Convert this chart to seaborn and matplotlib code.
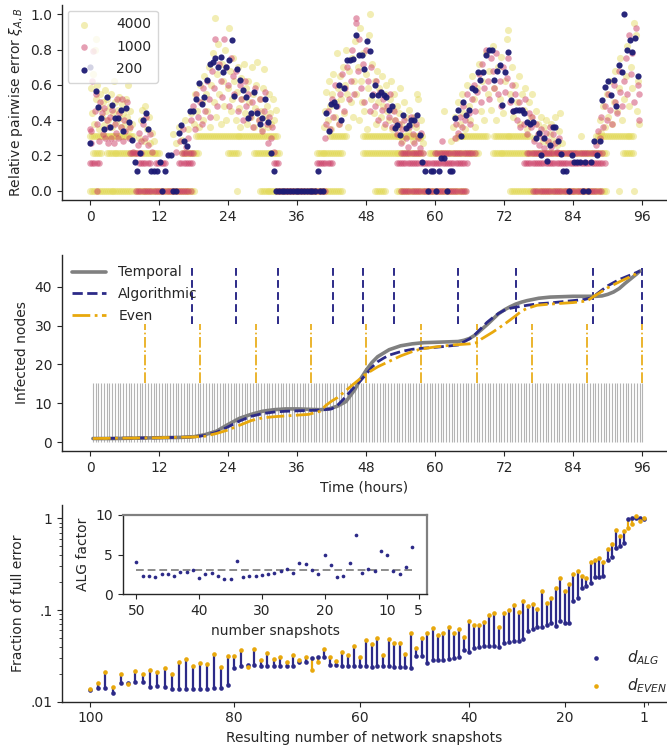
import numpy as np
import matplotlib
matplotlib.use("Agg")
import matplotlib.pyplot as plt
import seaborn as sns
from matplotlib.ticker import FixedLocator, FixedFormatter, NullFormatter, LogLocator

sns.set_style("ticks")
plt.rcParams.update({
    "font.family": ["DejaVu Sans"],
    "font.size": 10,
    "axes.labelsize": 10,
    "xtick.labelsize": 10,
    "ytick.labelsize": 10,
    "legend.fontsize": 10,
    "axes.linewidth": 1.0,
    "mathtext.fontset": "dejavusans",
})

NAVY = "#2c2a88"
GOLD = "#e8a80c"
YELLOW = "#e0d64c"
PINK = "#cc4068"
DOT_NAVY = "#1d1b74"

# ---------------------------------------------------------------- panel 1 data
# 200-snapshot resolution: (time in hours, relative pairwise error)
RES200 = [
    (0.0, .70), (0.05, .27), (1.0, .566), (1.45, .476), (1.9, .41), (2.4, .35), (2.9, .53),
    (3.4, .36), (3.9, .486), (4.3, .41), (4.8, .41), (5.3, .46), (5.8, .336), (6.3, .467),
    (6.8, .388), (7.3, .29), (7.8, .163), (8.2, .112), (8.7, .215), (9.2, .40), (9.7, .44),
    (10.1, .35), (10.6, .112), (11.1, .112), (11.6, .112), (12.1, .163), (12.6, 0), (13.0, .112),
    (13.5, .20), (14.0, .20), (14.5, 0), (14.9, 0), (15.5, .33), (15.9, .37), (16.4, .28),
    (16.9, .255), (17.4, .45), (17.9, .45), (18.4, .52), (18.9, .61), (19.4, .49), (19.8, .53),
    (20.3, .63), (20.8, .72), (21.3, .73), (21.7, .75), (22.2, .70), (22.7, .755), (23.2, .67),
    (23.7, .70), (24.2, .74), (24.6, .854), (25.1, .535), (25.6, .69), (26.1, .63), (26.6, .57),
    (27.1, .53), (27.5, .41), (28.0, .44), (28.5, .56), (29.0, .44), (29.5, .38), (29.9, .41),
    (30.4, .52), (30.9, .39), (31.4, .215), (31.9, .112),
    (32.4, 0), (32.9, 0), (33.4, 0), (33.8, 0), (34.3, 0), (34.8, 0), (35.3, 0), (35.8, 0),
    (36.2, 0), (36.7, 0), (37.2, 0), (37.7, 0), (38.2, 0), (38.6, 0), (39.1, 0),
    (39.6, .112), (40.0, 0), (40.5, 0), (41.0, .44), (41.5, .34), (41.9, .49), (42.4, .50),
    (42.8, .48), (43.3, .60), (43.7, .40), (44.2, .58), (44.7, .74), (45.2, .74), (45.7, .747),
    (46.2, .884), (46.7, .77), (47.2, .767), (47.6, .69), (48.1, .85), (48.6, .79), (49.1, .54),
    (49.6, .60), (50.1, .54), (50.6, .56), (51.1, .54), (51.5, .53), (52.0, .46), (52.5, .48),
    (53.0, .355), (53.4, .37), (53.9, .318), (54.4, .43), (54.9, .355), (55.4, .37), (55.8, .40),
    (56.3, .40), (56.8, .43), (57.3, .318), (57.7, .163), (58.2, .112), (58.7, 0), (59.2, .112),
    (59.7, .112), (60.1, 0), (60.6, .112), (61.1, .187), (61.6, .187), (62.1, 0), (62.5, .112),
    (63.0, .112), (63.5, .41), (64.0, .46), (64.5, .309), (64.9, .50), (65.4, .43), (65.9, .46),
    (66.4, .58), (66.9, .57), (67.4, .67), (67.8, .63), (68.3, .67), (68.8, .767), (69.3, .80),
    (69.8, .80), (70.2, .63), (70.7, .68), (71.2, .71), (71.7, .485), (72.2, .672), (72.7, .785),
    (73.1, .514), (73.6, .45), (74.1, .46), (74.6, .46), (75.1, .46), (75.5, .443), (76.0, .39),
    (76.5, .38), (77.0, .39), (77.5, .30), (78.0, .33), (78.4, .20), (78.9, .30), (79.4, .17),
    (79.9, .26), (80.4, .36), (80.8, .36), (81.3, .28), (81.8, .21), (82.3, .112), (82.8, .112),
    (83.3, 0), (83.7, .20), (84.2, .163), (84.7, .163), (85.2, .163), (85.7, 0), (86.1, .163),
    (86.6, 0), (87.1, .163), (87.6, .28), (88.1, .20), (88.6, .28), (89.0, .516), (89.5, .588),
    (90.0, .62), (90.5, .54), (91.0, .63), (91.5, .478), (91.9, .71), (92.4, .672), (92.9, 1.0),
    (93.4, .80), (93.9, .854), (94.3, .785), (94.8, .865), (95.3, .65),
]

# 1000-snapshot resolution: scattered values and quantised plateaus (value, t_start, t_end)
RES1000_SCATTER = [
    (0.0, .35), (0.2, .27), (0.1, .34), (0.3, .62), (0.6, .79), (0.8, .45), (1.0, .55), (1.3, .38),
    (1.5, .28), (1.7, .50), (2.0, .44), (2.2, .32), (2.4, .47), (2.6, .30), (2.9, .40), (3.1, .27),
    (3.3, .36), (3.5, .42), (3.7, .30), (3.9, .46), (4.1, .27), (4.3, .38), (4.5, .33), (4.7, .52),
    (4.9, .30), (5.1, .44), (5.3, .36), (5.5, .52), (5.7, .28), (5.9, .40), (6.1, .34), (6.4, .50),
    (6.7, .30), (7.0, .36), (7.4, .22), (8.3, .26), (8.6, .33), (8.9, .28), (9.2, .38), (9.5, .30),
    (9.8, .42), (10.1, .26), (10.4, .32), (10.8, .22), (15.0, .22), (15.6, .28), (16.1, .35),
    (16.6, .25), (17.1, .30), (17.6, .40), (17.9, .48), (18.2, .35), (18.5, .55), (18.8, .42),
    (19.1, .50), (19.4, .38), (19.7, .58), (20.0, .45), (20.3, .62), (20.6, .52), (20.9, .42),
    (21.2, .68), (21.5, .58), (21.8, .86), (22.1, .48), (22.4, .72), (22.7, .62), (23.0, .53),
    (23.3, .86), (23.6, .70), (23.9, .60), (24.2, .48), (24.5, .75), (24.8, .65), (25.1, .55),
    (25.4, .68), (25.7, .45), (26.0, .60), (26.3, .52), (26.6, .40), (26.9, .62), (27.2, .48),
    (27.5, .55), (27.8, .42), (28.1, .50), (28.4, .36), (28.7, .58), (29.0, .45), (29.3, .40),
    (29.6, .52), (29.9, .34), (30.2, .45), (30.5, .56), (30.8, .38), (31.1, .42), (31.4, .30),
    (31.7, .36), (32.0, .22), (31.0, .27), (40.8, .30), (41.1, .38), (41.4, .45), (41.7, .35),
    (42.0, .52), (42.3, .42), (42.6, .60), (42.9, .48), (43.2, .38), (43.5, .55), (43.8, .66),
    (44.1, .45), (44.4, .58), (44.7, .70), (45.0, .52), (45.3, .62), (45.6, .80), (45.9, .55),
    (46.2, .98), (46.3, .95), (46.5, .68), (46.8, .86), (47.1, .58), (47.4, .72), (47.7, .50),
    (48.0, .80), (48.3, .62), (48.6, .45), (48.9, .70), (49.2, .55), (49.5, .48), (49.8, .62),
    (50.1, .40), (50.4, .56), (50.7, .46), (51.0, .52), (51.3, .38), (51.6, .48), (51.9, .42),
    (52.2, .55), (52.5, .36), (52.8, .45), (53.1, .40), (53.4, .32), (53.7, .38), (54.0, .27),
    (54.3, .35), (54.6, .40), (54.9, .30), (55.2, .25), (55.5, .36), (55.8, .42), (56.1, .32),
    (56.4, .27), (56.7, .38), (57.0, .30), (57.3, .24), (57.6, .33), (61.2, .28), (63.4, .30),
    (63.7, .38), (64.0, .33), (64.3, .42), (64.6, .36), (64.9, .48), (65.2, .40), (65.5, .55),
    (65.8, .44), (66.1, .38), (66.4, .52), (66.7, .60), (67.0, .45), (67.3, .56), (67.6, .66),
    (67.9, .50), (68.2, .72), (68.5, .58), (68.8, .80), (69.1, .62), (69.4, .52), (69.7, .75),
    (70.0, .68), (70.3, .58), (70.6, .78), (70.9, .55), (71.2, .62), (71.5, .48), (71.8, .70),
    (72.1, .56), (72.4, .64), (72.7, .75), (73.0, .50), (73.3, .60), (73.6, .45), (73.9, .55),
    (74.2, .40), (74.5, .50), (74.8, .36), (75.1, .46), (75.4, .38), (75.7, .52), (76.0, .32),
    (76.3, .44), (76.6, .36), (76.9, .42), (77.2, .28), (77.5, .38), (77.8, .32), (78.1, .26),
    (78.4, .35), (78.7, .30), (79.0, .24), (79.3, .33), (79.6, .28), (79.9, .36), (80.2, .25),
    (80.5, .32), (80.8, .27), (81.2, .22), (81.6, .30), (88.0, .26), (88.3, .34), (88.6, .30),
    (88.9, .42), (89.2, .36), (89.5, .48), (89.8, .40), (90.1, .55), (90.4, .46), (90.7, .38),
    (91.0, .60), (91.3, .50), (91.6, .44), (91.9, .68), (92.2, .56), (92.5, .48), (92.8, .62),
    (93.1, .75), (93.4, .55), (93.7, .88), (94.0, .66), (94.3, .78), (94.6, .50), (94.9, .92),
    (95.2, .60), (95.5, .40), (95.5, .55),
]
RES1000_PLATEAUS = [
    (0.0, 1.2, 1.2), (0.0, 8.0, 17.8), (0.0, 32.5, 41.2), (0.0, 54.0, 65.5), (0.0, 77.0, 89.0),
    (0.159, 0.0, 1.8), (0.159, 8.5, 10.5), (0.159, 11.5, 13.3), (0.159, 15.5, 17.8),
    (0.159, 32.0, 33.0), (0.159, 39.4, 42.3), (0.159, 53.3, 65.5), (0.159, 75.4, 89.8),
    (0.215, 7.0, 9.0), (0.215, 16.0, 18.0), (0.215, 54.0, 58.0), (0.215, 60.0, 67.0),
    (0.215, 76.0, 89.0),
]

# 4000-snapshot resolution
RES4000_SCATTER = [
    (0.1, .58), (0.3, .44), (0.5, .66), (0.7, .38), (0.9, .80), (1.0, .52), (1.1, .86), (1.3, .60),
    (1.5, .47), (1.6, .35), (1.8, .55), (2.0, .42), (2.2, .50), (2.4, .37), (2.6, .57), (2.8, .45),
    (3.0, .52), (3.2, .40), (3.4, .48), (3.6, .55), (3.8, .36), (4.0, .44), (4.2, .62), (4.4, .50),
    (4.6, .39), (4.8, .46), (5.0, .53), (5.2, .41), (5.4, .36), (5.6, .49), (5.8, .44), (6.0, .38),
    (6.2, .52), (6.4, .42), (6.6, .60), (6.8, .35), (7.0, .45), (7.3, .38), (8.6, .30), (8.9, .40),
    (9.1, .46), (9.3, .28), (9.6, .48), (9.9, .35), (10.2, .42), (10.5, .27), (10.8, .33),
    (11.2, .28), (14.4, .32), (15.0, .27), (15.5, .36), (16.0, .29), (16.5, .40), (17.0, .35),
    (17.5, .44), (18.0, .38), (18.3, .55), (18.6, .45), (18.9, .36), (19.1, .60), (19.4, .50),
    (19.7, .40), (19.9, .65), (20.2, .55), (20.4, .45), (20.7, .70), (20.9, .36), (21.1, .60),
    (21.3, .78), (21.5, .50), (21.7, .98), (21.9, .42), (22.1, .66), (22.3, .83), (22.5, .55),
    (22.7, .38), (22.9, .72), (23.1, .62), (23.3, .48), (23.5, .80), (23.7, .40), (23.9, .58),
    (24.1, .92), (24.3, .68), (24.5, .45), (24.7, .52), (24.9, .75), (25.1, .62), (25.3, .40),
    (25.5, .56), (25.7, .70), (25.9, .47), (26.1, .36), (26.3, .64), (26.5, .52), (26.7, .72),
    (26.9, .44), (27.1, .58), (27.3, .38), (27.5, .62), (27.7, .50), (27.9, .42), (28.1, .70),
    (28.3, .55), (28.5, .36), (28.7, .47), (28.9, .60), (29.1, .73), (29.3, .40), (29.5, .52),
    (29.7, .45), (29.9, .35), (30.1, .58), (30.3, .69), (30.5, .42), (30.7, .48), (30.9, .36),
    (31.1, .55), (31.3, .44), (31.5, .38), (31.8, .52), (32.0, .40), (32.3, .46), (25.6, 0.0),
    (40.6, .36), (40.9, .45), (41.1, .56), (41.3, .40), (41.5, .62), (41.7, .48), (41.9, .35),
    (42.1, .55), (42.3, .66), (42.5, .42), (42.7, .50), (42.9, .78), (43.1, .58), (43.3, .38),
    (43.5, .65), (43.7, .52), (43.9, .70), (44.1, .44), (44.3, .60), (44.5, .80), (44.7, .55),
    (44.9, .36), (45.1, .68), (45.3, .50), (45.5, .75), (45.7, .42), (45.9, .62), (46.1, .85),
    (46.3, .55), (46.5, .70), (46.7, .40), (46.9, .92), (47.1, .62), (47.3, .50), (47.5, .78),
    (47.7, .45), (47.9, .66), (48.1, .35), (48.3, .58), (48.5, .88), (48.7, 1.0), (48.9, .52),
    (49.1, .72), (49.3, .44), (49.5, .62), (49.7, .38), (49.9, .68), (50.1, .50), (50.3, .58),
    (50.5, .42), (50.7, .65), (50.9, .48), (51.1, .36), (51.3, .55), (51.5, .60), (51.7, .45),
    (51.9, .40), (52.1, .52), (52.3, .62), (52.5, .35), (52.7, .46), (52.9, .55), (53.1, .40),
    (53.3, .48), (53.5, .36), (53.7, .44), (53.9, .58), (54.1, .38), (54.3, .28), (54.6, .50),
    (54.9, .42), (55.2, .34), (55.5, .46), (55.8, .38), (56.1, .28), (56.4, .42), (56.7, .36),
    (56.9, .55), (57.0, .52), (57.3, .30), (57.6, .40), (57.9, .27), (61.6, .45), (62.8, .28),
    (63.1, .36), (63.4, .42), (63.7, .30), (64.0, .50), (64.3, .38), (64.6, .55), (64.9, .44),
    (65.2, .35), (65.5, .60), (65.8, .48), (66.1, .40), (66.4, .65), (66.7, .52), (67.0, .36),
    (67.3, .58), (67.6, .72), (67.9, .45), (68.2, .62), (68.5, .40), (68.8, .78), (69.1, .55),
    (69.4, .68), (69.7, .46), (70.0, .82), (70.3, .58), (70.6, .40), (70.9, .70), (71.2, .52),
    (71.5, .76), (71.8, .44), (72.1, .62), (72.4, .86), (72.7, .91), (73.0, .55), (73.3, .70),
    (73.6, .42), (73.9, .60), (74.2, .50), (74.5, .65), (74.8, .38), (75.1, .55), (75.4, .46),
    (75.7, .58), (76.0, .35), (76.3, .50), (76.6, .42), (76.9, .55), (77.2, .30), (77.5, .45),
    (77.8, .38), (78.1, .33), (78.4, .42), (78.7, .28), (79.0, .36), (79.3, .40), (79.6, .27),
    (79.9, .32), (80.2, .38), (80.5, .29), (80.8, .42), (81.1, .26), (81.5, .34), (81.7, .44),
    (82.0, .27), (85.3, .31), (88.3, .28), (88.6, .40), (88.9, .33), (89.2, .48), (89.5, .36),
    (89.8, .55), (90.1, .42), (90.4, .62), (90.7, .38), (91.0, .50), (91.3, .68), (91.6, .45),
    (91.9, .58), (92.2, .75), (92.5, .40), (92.8, .52), (93.1, .65), (93.4, .82), (93.7, .48),
    (94.0, .70), (94.3, .58), (94.6, .95), (94.9, .88), (95.1, .45), (95.3, .62), (95.5, .38),
    (92.0, 0.0), (94.5, 0.0),
]
RES4000_PLATEAUS = [
    (0.0, 0.0, 7.2), (0.0, 7.6, 18.2), (0.0, 29.5, 43.8), (0.0, 49.5, 51.2), (0.0, 53.3, 65.5),
    (0.0, 73.0, 89.8),
    (0.215, 0.5, 2.0), (0.215, 2.9, 8.0), (0.215, 9.0, 12.2), (0.215, 16.0, 19.0),
    (0.215, 24.0, 26.0), (0.215, 28.5, 33.2), (0.215, 39.4, 44.0), (0.215, 47.5, 57.9),
    (0.215, 59.0, 67.8), (0.215, 70.0, 89.8), (0.215, 92.7, 94.5),
    (0.31, 0.0, 7.5), (0.31, 18.5, 32.5), (0.31, 41.7, 44.6), (0.31, 47.5, 58.0),
    (0.31, 63.9, 69.1), (0.31, 70.2, 76.5), (0.31, 88.0, 94.5),
]

# ---------------------------------------------------------------- panel 2 data
TIME_TICKS = [0, 12, 24, 36, 48, 60, 72, 84, 96]
N_SNAPSHOTS = 200
HOURS = 96.0
TEMPORAL_T = [0.5, 4, 8, 12, 16, 18, 20, 22, 24, 26, 28, 30, 32, 34, 36, 38, 40, 41.5, 43, 44.5,
              46, 47, 48, 49, 50, 52, 54, 56, 58, 60, 62, 64, 65, 66, 67, 68, 69, 70, 71, 72,
              73, 74, 75, 76, 78, 80, 82, 84, 86, 88, 89, 90, 91, 92, 93, 94, 95, 95.6]
TEMPORAL_Y = [1.0, 1.0, 1.1, 1.2, 1.3, 1.45, 2.0, 2.9, 4.6, 6.2, 7.2, 8.0, 8.4, 8.6, 8.6, 8.5, 8.4,
              8.6, 9.3, 10.5, 13.5, 16.2, 18.5, 20.5, 22.0, 23.8, 24.8, 25.3, 25.6, 25.7, 25.8,
              25.9, 26.2, 26.7, 27.6, 28.9, 30.2, 31.6, 33.0, 34.0, 34.8, 35.5, 36.0, 36.4, 37.0,
              37.3, 37.4, 37.5, 37.5, 37.5, 37.6, 38.0, 38.6, 39.5, 40.8, 42.0, 43.2, 44.0]
ALG_T = [0.5, 12, 18, 20, 22, 24, 26, 28, 30, 32, 34, 36, 38, 40, 42, 43, 44, 46, 47, 48,
         49, 50, 51, 52, 54, 56, 58, 60, 62, 64, 66, 67, 68, 69, 70, 71, 72, 73, 74, 76,
         78, 80, 82, 84, 86, 87.4, 88, 90, 92, 94, 95.6]
ALG_Y = [1.0, 1.2, 1.4, 1.8, 2.6, 4.0, 5.5, 6.7, 7.4, 7.8, 8.0, 8.1, 8.2, 8.3, 8.6, 9.5, 11.0,
         14.3, 15.8, 17.5, 19.3, 20.7, 21.6, 22.4, 23.3, 23.9, 24.2, 24.4, 24.7, 25.0, 26.6,
         27.8, 29.3, 30.8, 32.0, 33.1, 33.9, 34.4, 34.7, 35.2, 35.6, 35.8, 36.1, 36.4, 36.7,
         37.2, 38.0, 40.2, 41.8, 43.0, 44.0]
EVEN_T = [0.5, 12, 18, 20, 22, 24, 26, 28, 30, 32, 34, 36, 38, 40, 41, 42, 43, 44, 46, 47,
          48, 50, 52, 54, 56, 57.6, 60, 63, 66, 67.2, 68, 70, 72, 74, 75, 76, 77.7, 80, 84,
          86.4, 87.5, 90, 92, 94, 95.6]
EVEN_Y = [1.0, 1.2, 1.4, 1.6, 2.3, 3.2, 4.4, 5.6, 6.3, 6.6, 6.8, 7.0, 7.2, 8.0, 9.5, 10.6, 11.5,
          12.7, 15.2, 16.4, 17.6, 19.4, 20.8, 22.2, 23.3, 24.0, 24.5, 25.0, 25.3, 25.6, 26.5,
          28.3, 30.3, 32.5, 33.7, 34.4, 35.2, 35.5, 35.9, 36.3, 37.4, 39.7, 41.2, 42.6, 43.8]
ALG_BOUNDS = [17.8, 25.4, 32.7, 42.2, 47.5, 52.9, 63.9, 74.0, 87.4, 96.0]
EVEN_BOUNDS = [9.6, 19.2, 28.8, 38.4, 48.0, 57.6, 67.2, 76.8, 86.4, 96.0]
RUG_TOP, EVEN_TOP, ALG_TOP = 15.2, 30.4, 45.7

# ---------------------------------------------------------------- panel 3 data
N_RESULT = list(range(100, 0, -1))
D_EVEN = [.0138, .0161, .0209, .0144, .0199, .0156, .0216, .0199, .0223, .0212,
          .0231, .0199, .0273, .0290, .0247, .0264, .0256, .0329, .0237, .0313,
          .0313, .0363, .0240, .0372, .0283, .0337, .0292, .0305, .0271, .0326,
          .0283, .0305, .0222, .0269, .0372, .0305, .0276, .0346, .0323, .0408,
          .0305, .0467, .0426, .0491, .0323, .0486, .0440, .0440, .0334, .0565,
          .0382, .0499, .0561, .0637, .0530, .0565, .0653, .0556, .0621, .0512,
          .0753, .0686, .0686, .0734, .0882, .0935, .0647, .0920, .1000, .1134,
          .0944, .1254, .1114, .1153, .1025, .1610, .1183, .1340, .1750, .2220,
          .1610, .1920, .2450, .2660, .2330, .2250, .3310, .3510, .3660, .3360,
          .4630, .5200, .7450, .6460, .7320, .7780, .8670, 1.070, .9400, 1.015]
D_ALG = [.0135, .0142, .0140, .0126, .0161, .0158, .0165, .0163, .0144, .0148,
         .0144, .0138, .0138, .0138, .0138, .0138, .0138, .0142, .0142, .0153,
         .0235, .0247, .0252, .0249, .0247, .0247, .0244, .0245, .0247, .0247,
         .0269, .0271, .0303, .0310, .0305, .0249, .0249, .0247, .0247, .0247,
         .0247, .0247, .0239, .0243, .0243, .0243, .0241, .0241, .0239, .0231,
         .0318, .0318, .0266, .0287, .0285, .0287, .0290, .0299, .0305, .0366,
         .0351, .0383, .0392, .0405, .0408, .0408, .0398, .0440, .0451, .0459,
         .0463, .0479, .0594, .0616, .0658, .0658, .0686, .0716, .0670, .0759,
         .0727, .0727, .1254, .1340, .1720, .1830, .1990, .2290, .2310, .2370,
         .3510, .3810, .4780, .5020, .5330, .9800, 1.000, 1.000, 1.000, .995]
X_TICKS3 = [100, 80, 60, 40, 20, 1]

INSET_N = list(range(50, 5, -1))
ALG_FACTOR = [4.07, 2.29, 2.33, 2.20, 2.50, 2.58, 2.37, 2.80, 2.75, 3.09,
              2.03, 2.54, 2.67, 2.25, 1.95, 1.99, 4.19, 2.16, 2.25, 2.33,
              2.42, 2.58, 2.71, 2.92, 3.22, 2.71, 3.94, 3.77, 3.05, 2.54,
              4.92, 3.73, 2.16, 2.37, 3.94, 7.42, 2.71, 3.22, 2.92, 5.42,
              4.92, 2.92, 2.58, 3.43, 5.93]


def expand_plateaus(plateaus, step):
    ts, vs = [], []
    for v, a, b in plateaus:
        t = np.arange(a, b + 1e-9, step)
        ts.extend(t.tolist())
        vs.extend([v] * len(t))
    return ts, vs


W, H = 667, 748
fig = plt.figure(figsize=(W / 100, H / 100), dpi=100)
L = 62 / W
AW = 1 - L

# ---------------------------------------------------------------- panel 1
ax1 = fig.add_axes([L, 1 - 200 / H, AW, 195 / H])
yt, yv = expand_plateaus(RES4000_PLATEAUS, 0.34)
yt += [p[0] for p in RES4000_SCATTER]
yv += [p[1] for p in RES4000_SCATTER]
pt, pv = expand_plateaus(RES1000_PLATEAUS, 0.38)
pt += [p[0] for p in RES1000_SCATTER]
pv += [p[1] for p in RES1000_SCATTER]
sns.scatterplot(x=yt, y=yv, color=YELLOW, alpha=0.42, s=26, linewidth=0, ax=ax1, label="4000")
sns.scatterplot(x=pt, y=pv, color=PINK, alpha=0.5, s=22, linewidth=0, ax=ax1, label="1000")
sns.scatterplot(x=[p[0] for p in RES200], y=[p[1] for p in RES200], color=DOT_NAVY,
                alpha=0.95, s=20, linewidth=0, ax=ax1, label="200")
ax1.set_xlim(-4.87, 100.3)
ax1.set_ylim(-0.052, 1.052)
ax1.set_xticks(TIME_TICKS)
ax1.set_yticks([0, 0.2, 0.4, 0.6, 0.8, 1.0])
ax1.set_yticklabels(["0.0", "0.2", "0.4", "0.6", "0.8", "1.0"])
ax1.set_ylabel(r"Relative pairwise error $\xi_{A,B}$")
ax1.legend(loc="upper left", frameon=True, handletextpad=1.6, borderpad=0.5,
           labelspacing=0.6, borderaxespad=0.4, handlelength=1.4)
sns.despine(ax=ax1)

# ---------------------------------------------------------------- panel 2
ax2 = fig.add_axes([L, 1 - 451 / H, AW, 196 / H])
snap_times = HOURS / N_SNAPSHOTS * np.arange(1, N_SNAPSHOTS + 1)
ax2.vlines(snap_times, 0, RUG_TOP, color="0.55", lw=0.8, alpha=0.65, zorder=1)
ax2.vlines(EVEN_BOUNDS, RUG_TOP, EVEN_TOP, color=GOLD, lw=1.2, linestyles="dashdot", zorder=1)
ax2.vlines(ALG_BOUNDS, EVEN_TOP, ALG_TOP, color=NAVY, lw=1.4, linestyles=(0, (4, 2.2)), zorder=1)
sns.lineplot(x=TEMPORAL_T, y=TEMPORAL_Y, color="#808080", lw=2.6, sort=False, estimator=None,
             label="Temporal", ax=ax2, zorder=3)
sns.lineplot(x=ALG_T, y=ALG_Y, color=NAVY, lw=2.0, sort=False, estimator=None,
             label="Algorithmic", ax=ax2, zorder=4, linestyle=(0, (3.7, 1.6)))
sns.lineplot(x=EVEN_T, y=EVEN_Y, color=GOLD, lw=2.0, sort=False, estimator=None,
             label="Even", ax=ax2, zorder=4, linestyle=(0, (6.4, 1.6, 1.0, 1.6)))
ax2.set_xlim(-4.87, 100.3)
ax2.set_ylim(-2.2, 48.1)
ax2.set_xticks(TIME_TICKS)
ax2.set_yticks([0, 10, 20, 30, 40])
ax2.set_xlabel("Time (hours)")
ax2.set_ylabel("Infected nodes")
ax2.legend(loc="upper left", frameon=False, handlelength=2.4, labelspacing=0.55,
           borderaxespad=0.35, handletextpad=0.9)
sns.despine(ax=ax2)

# ---------------------------------------------------------------- panel 3
ax3 = fig.add_axes([L, 1 - 701.7 / H, AW, 196.7 / H])
ax3.set_yscale("log")
K = 0.0069
ax3.set_xscale("function", functions=(lambda n: np.exp(K * np.asarray(n, float)),
                                      lambda u: np.log(np.maximum(np.asarray(u, float), 1e-9)) / K))
for n, a, e in zip(N_RESULT, D_ALG, D_EVEN):
    ax3.vlines(n, min(a, e), max(a, e), color=NAVY if e >= a else GOLD, lw=1.6, zorder=2)
sns.scatterplot(x=N_RESULT, y=D_ALG, color=NAVY, s=11, linewidth=0, ax=ax3,
                label=r"$d_{ALG}$", zorder=3)
sns.scatterplot(x=N_RESULT, y=D_EVEN, color=GOLD, s=11, linewidth=0, ax=ax3,
                label=r"$d_{EVEN}$", zorder=4)
ax3.set_xlim(103.6, -5.1)
ax3.set_ylim(0.01, 1.40)
ax3.xaxis.set_major_locator(FixedLocator(X_TICKS3))
ax3.xaxis.set_major_formatter(FixedFormatter([str(v) for v in X_TICKS3]))
ax3.xaxis.set_minor_locator(FixedLocator([0]))
ax3.xaxis.set_minor_formatter(NullFormatter())
ax3.yaxis.set_major_locator(FixedLocator([0.01, 0.1, 1]))
ax3.yaxis.set_major_formatter(FixedFormatter([".01", ".1", "1"]))
ax3.yaxis.set_minor_locator(LogLocator(base=10, subs=np.arange(2, 10)))
ax3.yaxis.set_minor_formatter(NullFormatter())
ax3.set_xlabel("Resulting number of network snapshots")
ax3.set_ylabel("Fraction of full error")
ax3.legend(loc="lower right", bbox_to_anchor=(1.035, -0.075), frameon=False, fontsize=11,
           labelspacing=0.6, handletextpad=1.0, borderaxespad=1.0, markerscale=1.0)
sns.despine(ax=ax3)

# inset: ratio of the two distances
axi = fig.add_axes([122.7 / W, 1 - 594.3 / H, (427.3 - 122.7) / W, (594.3 - 515) / H])
sns.scatterplot(x=INSET_N, y=ALG_FACTOR, color=NAVY, s=7, linewidth=0, ax=axi, zorder=3)
axi.hlines(np.mean(ALG_FACTOR), INSET_N[0], INSET_N[-1], color="0.55", lw=1.4,
           linestyles=(0, (4, 2)), zorder=2)
axi.set_xlim(52.2, 3.6)
axi.set_ylim(0, 10)
axi.set_xticks([50, 40, 30, 20, 10, 5])
axi.set_yticks([0, 5, 10])
axi.set_xlabel("number snapshots")
axi.set_ylabel("ALG factor")
for side in ("top", "right"):
    axi.spines[side].set_color("0.5")
    axi.spines[side].set_linewidth(1.6)

fig.savefig("out.png", dpi=100)
